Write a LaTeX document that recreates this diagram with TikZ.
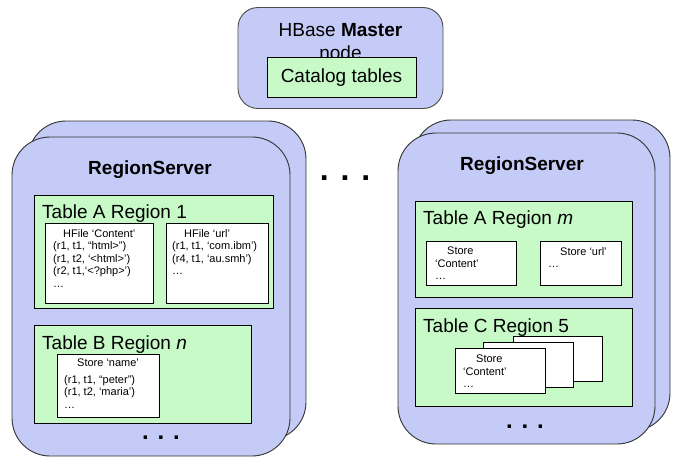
\documentclass[tikz,border=0pt]{standalone}
\usepackage{fontspec}
\setmainfont{Liberation Sans}
\usetikzlibrary{positioning}
\definecolor{serverblue}{RGB}{196,203,246}
\definecolor{regiongreen}{RGB}{200,250,200}
\tikzset{server node/.style={rectangle,rounded corners=38pt,draw=black!80,fill=serverblue,line width=0.9pt},
  master node/.style={rectangle,rounded corners=20pt,draw=black!70,fill=serverblue,line width=0.9pt,minimum width=205pt,minimum height=101pt},
  region node/.style={rectangle,draw=black,fill=regiongreen,line width=0.8pt},
  store node/.style={rectangle,draw=black,fill=white,line width=0.8pt},
  title text/.style={font=\fontsize{19}{22}\selectfont,inner sep=0pt,anchor=base west},
  server text/.style={font=\fontsize{19}{22}\bfseries\selectfont,inner sep=0pt,anchor=base},
  store text/.style={font=\fontsize{11}{12.5}\selectfont,inner sep=0pt,align=left,anchor=north west},
  dots/.style={font=\fontsize{24}{24}\bfseries\selectfont,inner sep=0pt,anchor=base}}

\begin{document}
\begin{tikzpicture}[x=1pt,y=-1pt]
    \useasboundingbox (0,0) rectangle (683,464);
    % master
    \node[master node] (master) at (340.5,58) {};
    \node[font=\fontsize{19}{20}\selectfont,inner sep=0pt,anchor=base] (mtext) at (340.5,36) {HBase \textbf{Master}};
    \node[font=\fontsize{19}{20}\selectfont,inner sep=0pt,anchor=base] (mnode) at (340.5,59) {node};
    \node[region node, minimum width=149pt, minimum height=39.5pt, font=\fontsize{19}{22}\selectfont] (catalog) at (341.5,77.25) {Catalog tables};
    % left region server
    \node[server node, minimum width=278pt, minimum height=319pt] (rs1b) at (167,280.5) {};
    \node[server node, minimum width=278pt, minimum height=319pt] (rs1) at (151,296.5) {};
    \node[server text] (rs1t) at (150,174) {RegionServer};
    \node[region node, minimum width=239pt, minimum height=113pt] (ta1) at (153.5,251.5) {};
    \node[title text] (ta1t) at (42,218) {Table A Region 1};
    \node[store node, minimum width=108pt, minimum height=80pt] (hcontent) at (99,263) {};
    \node[store node, minimum width=102pt, minimum height=80pt] (hurl) at (217,263) {};
    \node[store text] (hcontentt) at (53,229) {\hspace*{10pt}HFile ‘Content’\\(r1, t1, “html>”)\\(r1, t2, ‘<html>’)\\(r2, t1,‘<?php>’)\\…};
    \node[store text] (hurlt) at (172,229) {\hspace*{12pt}HFile ‘url’\\(r1, t1, ‘com.ibm’)\\(r4, t1, ‘au.smh’)\\…};
    \node[region node, minimum width=217pt, minimum height=98pt] (tbn) at (142.5,374) {};
    \node[title text] (tbnt) at (42,349) {Table B Region \textit{n}};
    \node[store node, minimum width=102pt, minimum height=63pt] (sname) at (108,385.5) {};
    \node[store text] (snamet) at (64,359) {\hspace*{13pt}Store ‘name’\\[4pt](r1, t1, “peter”)\\(r1, t2, ‘maria’)\\…};
    \node[dots] (rs1dots) at (161,439) {. . .};
    % between servers
    \node[dots, font=\fontsize{32}{32}\bfseries\selectfont] (middots) at (345,180) {. . .};
    % right region server
    \node[server node, minimum width=257pt, minimum height=311pt] (rs2b) at (541.5,275.5) {};
    \node[server node, minimum width=257pt, minimum height=311pt] (rs2) at (526.5,288.5) {};
    \node[server text] (rs2t) at (522,170) {RegionServer};
    \node[region node, minimum width=217pt, minimum height=96pt] (tam) at (523.5,249) {};
    \node[title text] (tamt) at (423,224) {Table A Region \textit{m}};
    \node[store node, minimum width=90pt, minimum height=44pt] (scontent) at (471,263) {};
    \node[store node, minimum width=81pt, minimum height=44pt] (surl) at (580.5,263) {};
    \node[store text] (scontentt) at (435,247) {\hspace*{12pt}Store\\‘Content’\\…};
    \node[store text] (surlt) at (548,247) {\hspace*{12pt}Store ‘url’\\…};
    \node[region node, minimum width=217pt, minimum height=98pt] (tc5) at (523.5,357) {};
    \node[title text] (tc5t) at (423,332) {Table C Region 5};
    \node[store node, minimum width=89pt, minimum height=45pt] (stack3) at (557.5,358.5) {};
    \node[store node, minimum width=90pt, minimum height=45pt] (stack2) at (528,364.5) {};
    \node[store node, minimum width=90pt, minimum height=45pt] (stack1) at (500,370.5) {};
    \node[store text] (stack1t) at (463,355) {\hspace*{13pt}Store\\‘Content’\\…};
    \node[dots] (rs2dots) at (525,428) {. . .};
\end{tikzpicture}
\end{document}
